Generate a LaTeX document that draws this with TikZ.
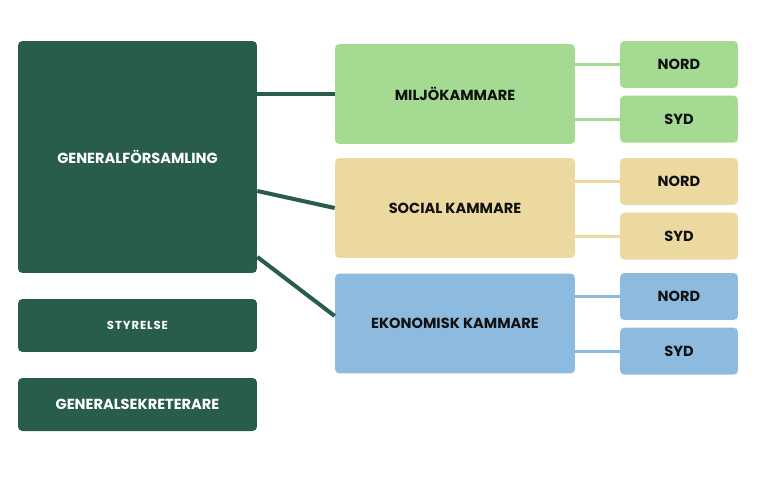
\documentclass[tikz,border=0pt]{standalone}
\usepackage{fontspec}
\setmainfont{Poppins}
\definecolor{orgDark}{HTML}{285C4D}
\definecolor{orgGreen}{HTML}{A4DA91}
\definecolor{orgSand}{HTML}{ECD9A0}
\definecolor{orgBlue}{HTML}{8DBBDF}
\definecolor{orgInk}{HTML}{111111}
\usetikzlibrary{positioning, calc}

\begin{document}
\begin{tikzpicture}[
    x=0.02cm, y=-0.02cm,
    node distance=0.14cm and 0.9cm,
    lead/.style={
      rounded corners=2.5pt,
      fill=orgDark,
      text=white,
      minimum width=4.78cm,
      minimum height=1.06cm,
      align=center,
      font=\fontsize{8.3}{10}\selectfont\bfseries,
      inner sep=0pt,
    },
    room/.style={
      rounded corners=2.5pt,
      text=orgInk,
      minimum width=4.8cm,
      minimum height=2cm,
      align=center,
      font=\fontsize{8.3}{10}\selectfont\bfseries,
      inner sep=0pt,
    },
    part/.style={
      rounded corners=2.5pt,
      text=orgInk,
      minimum width=2.36cm,
      minimum height=0.94cm,
      font=\fontsize{8.3}{10}\selectfont\bfseries,
      inner sep=0pt,
    },
    link/.style={orgDark, line width=2.3pt},
    sub/.style={line width=1.8pt},
  ]
    \useasboundingbox (0,0) rectangle (757,480);

    % Left column
    \node[lead, minimum height=4.64cm] (ga) at (137.5,157) {GENERALFÖRSAMLING};
    \node[lead] (sty) at (137.5,325.5) {{\fontsize{6.6}{8}\selectfont\addfontfeature{LetterSpace=8}STYRELSE}};
    \node[lead] (gs) at (137.5,404.5) {GENERALSEKRETERARE};

    % Chambers
    \node[room, fill=orgGreen] (milj) at (455,94) {MILJÖKAMMARE};
    \node[room, fill=orgSand] (soc) at (455,208) {SOCIAL KAMMARE};
    \node[room, fill=orgBlue] (eko) at (455,323.5) {EKONOMISK KAMMARE};

    % North / south
    \node[part, fill=orgGreen] (miljN) at (679,64.5) {NORD};
    \node[part, fill=orgGreen, below=of miljN] (miljS) {SYD};
    \node[part, fill=orgSand] (socN) at (679,181.5) {NORD};
    \node[part, fill=orgSand, below=of socN] (socS) {SYD};
    \node[part, fill=orgBlue] (ekoN) at (679,296.5) {NORD};
    \node[part, fill=orgBlue, below=of ekoN] (ekoS) {SYD};

    % Links from the assembly
    \draw[link] (ga.east |- milj.west) -- (milj.west);
    \draw[link] ([yshift=-0.68cm]ga.east) -- (soc.west);
    \draw[link] ([yshift=-2cm]ga.east) -- ([yshift=0.15cm]eko.west);

    % Links to the parts
    \draw[sub, orgGreen] (milj.east |- miljN.west) -- (miljN.west);
    \draw[sub, orgGreen] (milj.east |- miljS.west) -- (miljS.west);
    \draw[sub, orgSand] (soc.east |- socN.west) -- (socN.west);
    \draw[sub, orgSand] (soc.east |- socS.west) -- (socS.west);
    \draw[sub, orgBlue] (eko.east |- ekoN.west) -- (ekoN.west);
    \draw[sub, orgBlue] (eko.east |- ekoS.west) -- (ekoS.west);
  \end{tikzpicture}
\end{document}
